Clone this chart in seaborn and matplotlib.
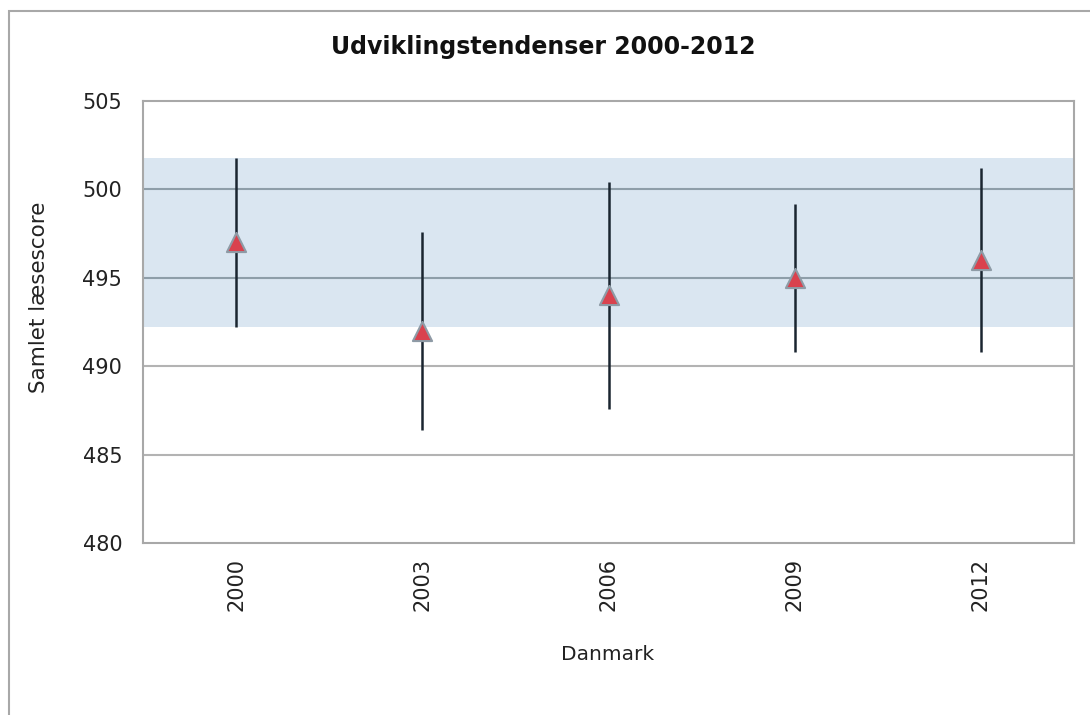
import matplotlib
matplotlib.use("Agg")
import matplotlib.pyplot as plt
import seaborn as sns
import pandas as pd
from matplotlib.patches import Rectangle

years = ["2000", "2003", "2006", "2009", "2012"]
scores = [497, 492, 494, 495, 496]
ci_low = [492.2, 486.4, 487.6, 490.8, 490.8]
ci_high = [501.8, 497.6, 500.4, 499.2, 501.2]
band_low = 492.2
band_high = 501.8
y_ticks = [480, 485, 490, 495, 500, 505]

title = "Udviklingstendenser 2000-2012"
x_label = "Danmark"
y_label = "Samlet læsescore"

sns.set_theme(style="white")
plt.rcParams["font.family"] = ["DejaVu Sans"]

df = pd.DataFrame({"year": years, "score": scores, "lo": ci_low, "hi": ci_high})

fig = plt.figure(figsize=(10.9, 7.15), dpi=100)
ax = fig.add_axes([143 / 1090, 1 - 543 / 715, (1074 - 143) / 1090, (543 - 101) / 715])

# band
ax.axhspan(band_low, band_high, color="#dae6f1", zorder=0.5, lw=0)

# grid
for t in y_ticks[1:-1]:
    inside = band_low <= t <= band_high
    ax.axhline(t, color="#8e9ea9" if inside else "#b3b3b3", lw=1.5, zorder=1)

# whiskers
ax.vlines(df["year"], df["lo"], df["hi"], color="#1a2530", lw=1.8, zorder=2)

# markers
sns.scatterplot(data=df, x="year", y="score", marker="^", s=190,
                color="#d9424e", edgecolor="#8e9ba6", linewidth=1.5,
                zorder=3, ax=ax, legend=False)

ax.set_xlim(-0.5, len(years) - 0.5)
ax.set_ylim(480, 505)
ax.set_yticks(y_ticks)
ax.tick_params(axis="y", labelsize=15, colors="#222222", length=0, pad=15)
ax.tick_params(axis="x", labelsize=15, colors="#222222", length=0, pad=11, rotation=90)

for s in ax.spines.values():
    s.set_color("#a8a8a8")
    s.set_linewidth(1.5)

ax.set_xlabel("")
ax.set_ylabel("")
fig.text(608 / 1090, 1 - 655 / 715, x_label, ha="center", va="center", fontsize=14.5, color="#222222")
fig.text(39 / 1090, 1 - 297 / 715, y_label, ha="center", va="center", rotation=90,
         rotation_mode="anchor", fontsize=15.5, color="#222222")
fig.text(543 / 1090, 1 - 47 / 715, title, ha="center", va="center", fontsize=17, fontweight="bold", color="#111111")

# outer chart border
fig.patches.append(Rectangle((9 / 1090, -0.1), 1.2, 1.1 - 11 / 715,
                             transform=fig.transFigure, fill=False,
                             edgecolor="#a8a8a8", lw=1.5, zorder=0))

fig.savefig("out.png", dpi=100)
